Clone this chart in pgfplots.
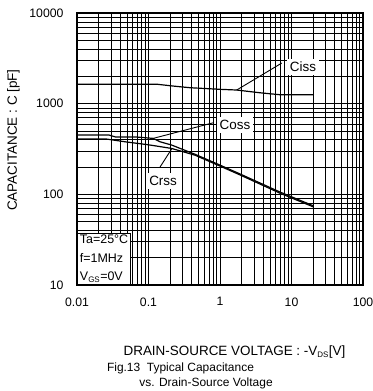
\documentclass[border=0pt]{standalone}
\usepackage{fontspec}
\setmainfont{Liberation Sans}
\usepackage{pgfplots}
\pgfplotsset{compat=1.18}

\begin{document}
\begin{tikzpicture}[x=1bp,y=1bp]
\path[use as bounding box] (0,0) rectangle (373,-391);
\begin{axis}[
  at={(77bp,-285bp)}, anchor=south west,
  width=286bp, height=272bp, scale only axis,
  xmode=log, ymode=log,
  xmin=0.01, xmax=100, ymin=10, ymax=10000,
  xtick={0.01,0.1,1,10,100},
  xticklabels={0.01,0.1,1,10,100},
  ytick={10,100,1000,10000},
  yticklabels={10,100,1000,10000},
  major tick length=0pt, minor tick length=0pt,
  grid=both,
  major grid style={black, line width=0.7bp},
  minor grid style={black, line width=0.55bp},
  axis line style={black, line width=1.3bp},
  tick label style={font=\fontsize{12.3}{14}\selectfont},
  xticklabel style={yshift=-9bp},
  yticklabel style={xshift=-10bp},
  clip=false,
]
% input capacitance
\addplot[black, line width=1.2bp] coordinates {
  (0.01,1640) (0.13,1640) (0.22,1565) (0.38,1500) (1,1440)
  (1.7,1415) (3.6,1320) (6.9,1255) (20,1255)};
% output capacitance
\addplot[black, line width=1.2bp] coordinates {
  (0.01,451) (0.028,451) (0.035,428) (0.07,428) (0.116,414)
  (0.145,380) (0.21,350) (0.45,276) (1,210) (1.9,168) (6.9,106) (20,75)};
% reverse transfer capacitance
\addplot[black, line width=1.2bp] coordinates {
  (0.01,409) (0.025,409) (0.047,380) (0.1,352) (0.21,321)
  (0.45,270) (1,205) (1.9,164) (6.9,103) (20,73)};

% callouts
\draw[black, line width=0.9bp] (axis cs:1.71,1413) -- (axis cs:7.3,2805);
\node[fill=white, inner sep=3bp, font=\fontsize{13.5}{15}\selectfont] at (axis cs:14.5,2535) {Ciss};
\draw[black, line width=0.9bp] (axis cs:0.116,414) -- (axis cs:0.8,615);
\node[fill=white, inner sep=3bp, font=\fontsize{13.5}{15}\selectfont] at (axis cs:1.62,581) {Coss};
\draw[black, line width=0.9bp] (axis cs:0.213,321) -- (axis cs:0.145,200);
\node[fill=white, inner sep=3bp, font=\fontsize{13.5}{15}\selectfont] at (axis cs:0.16,140) {Crss};

% measurement conditions
\node[draw=black, line width=0.9bp, fill=white, anchor=south west, align=left,
  inner xsep=2.5bp, inner ysep=2bp, font=\fontsize{12.5}{18.5}\selectfont]
  at (rel axis cs:0,0) {Ta=25\textdegree C\\f=1MHz\\V\textsubscript{\fontsize{8}{9}\selectfont GS}=0V};
\end{axis}

\node[rotate=90, font=\fontsize{13.5}{15}\selectfont] at (13.5,-140) {CAPACITANCE : C [pF]};
\node[font=\fontsize{13.5}{15}\selectfont] at (234.5,-352) {DRAIN-SOURCE VOLTAGE : -V\textsubscript{\fontsize{8}{9}\selectfont DS}[V]};
\node[font=\fontsize{12}{14}\selectfont] at (180.5,-368) {Fig.13\ \ Typical Capacitance};
\node[font=\fontsize{12}{14}\selectfont] at (206,-383) {vs. Drain-Source Voltage};
\end{tikzpicture}
\end{document}
